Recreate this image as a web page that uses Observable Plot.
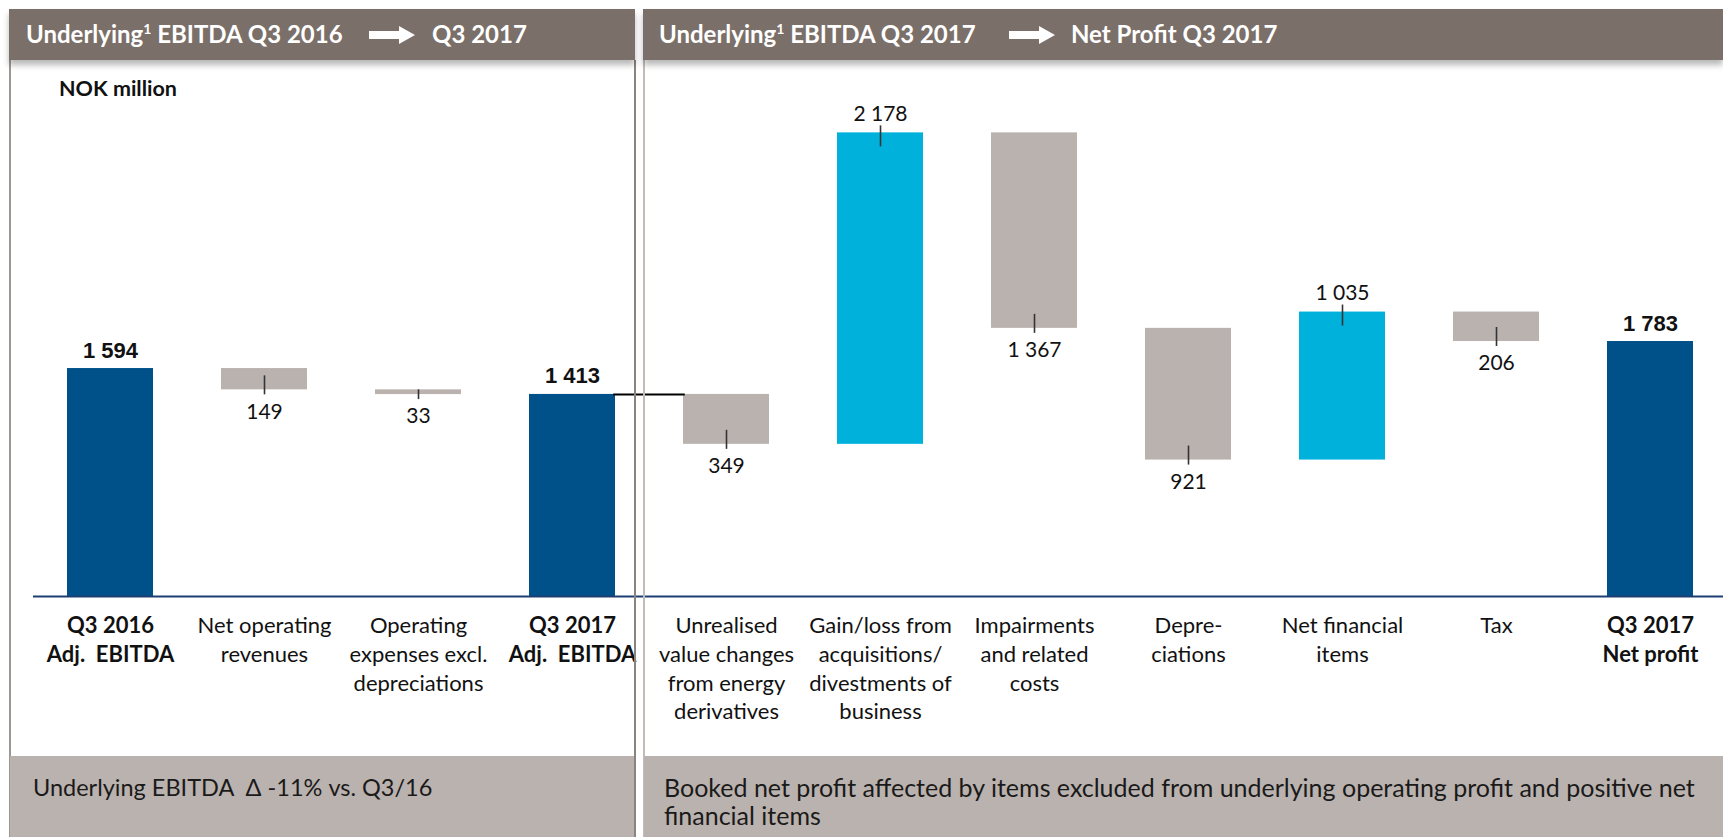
<!DOCTYPE html>
<html>
<head>
<meta charset="utf-8">
<script src="https://cdn.jsdelivr.net/npm/d3@7"></script>
<script src="https://cdn.jsdelivr.net/npm/@observablehq/plot@0.6"></script>
<style>
  html, body { margin: 0; padding: 0; background: #fff; }
  #wrap { position: relative; width: 1723px; height: 837px; overflow: hidden; font-family: Lato, "Open Sans", sans-serif; }
  #chart { position: absolute; left: 0; top: 0; }
  .hdr { position: absolute; top: 9px; height: 51px; background: #7b6f69; color: #fff; font-weight: 700; font-size: 24px; box-shadow: 0 5px 6px rgba(0,0,0,0.28); z-index: 3; }
  .hdr span { position: absolute; top: 10px; white-space: nowrap; }
  .hdr sup { font-size: 14px; vertical-align: 0; position: relative; top: -9px; }
  .hdr svg { position: absolute; top: 17px; }
  .vline { position: absolute; top: 60px; bottom: 0; width: 1.5px; z-index: 2; }
  .box { position: absolute; top: 756px; height: 81px; background: #bab2ae; color: #1a1a1a; z-index: 2; }
  .box div { position: absolute; white-space: nowrap; line-height: 28px; }
  #unit { position: absolute; left: 59px; top: 75px; font-weight: 700; font-size: 21.5px; color: #111; z-index: 2; }
</style>
</head>
<body>
<div id="wrap">
  <div id="chart"></div>
  <div class="hdr" style="left:9px;width:626px;">
    <span style="left:17px;">Underlying<sup>1</sup> EBITDA Q3 2016</span>
    <svg width="46" height="18" style="left:360px;"><polygon points="0,5 30,5 30,0 46,9 30,18 30,13 0,13" fill="#fff"/></svg>
    <span style="left:423px;">Q3 2017</span>
  </div>
  <div class="hdr" style="left:643px;width:1080px;">
    <span style="left:16px;">Underlying<sup>1</sup> EBITDA Q3 2017</span>
    <svg width="46" height="18" style="left:366px;"><polygon points="0,5 30,5 30,0 46,9 30,18 30,13 0,13" fill="#fff"/></svg>
    <span style="left:428px;">Net Profit Q3 2017</span>
  </div>
  <div id="unit">NOK million</div>
  <div class="vline" style="left:9px;background:#9d9691;"></div>
  <div class="vline" style="left:634px;background:#8a837e;"></div>
  <div class="vline" style="left:643px;background:#c2bcb8;"></div>
  <div class="box" style="left:10px;width:624px;">
    <div style="left:23px;top:17px;font-size:23.5px;">Underlying EBITDA&nbsp; Δ -11% vs. Q3/16</div>
  </div>
  <div class="box" style="left:644px;width:1079px;">
    <div style="left:20px;top:17px;font-size:25px;">Booked net profit affected by items excluded from underlying operating profit and positive net<br>financial items</div>
  </div>
</div>
<script>
// ---- data ----
const categories = [
  "Q3 2016\nAdj.  EBITDA",
  "Net operating\nrevenues",
  "Operating\nexpenses excl.\ndepreciations",
  "Q3 2017\nAdj.  EBITDA",
  "Unrealised\nvalue changes\nfrom energy\nderivatives",
  "Gain/loss from\nacquisitions/\ndivestments of\nbusiness",
  "Impairments\nand related\ncosts",
  "Depre-\nciations",
  "Net financial\nitems",
  "Tax",
  "Q3 2017\nNet profit"
];
const kinds = ["total","delta","delta","total","delta","delta","delta","delta","delta","delta","total"];
const values = [1594, -149, -33, 1413, -349, 2178, -1367, -921, 1035, -206, 1783];
const valueLabels = ["1 594","149","33","1 413","349","2 178","1 367","921","1 035","206","1 783"];

// ---- styling ----
const C_TOTAL = "#00518a", C_POS = "#00b1dc", C_NEG = "#bab2ae";
const Y_MAX = 3748, Y0 = 596, YTOP = 60;
const pxPerUnit = (Y0 - YTOP) / Y_MAX;
const px = p => p / pxPerUnit;
const X_RANGE = [35, 1725], P_IN = 0.44, P_OUT = 0.207;
const step = (X_RANGE[1] - X_RANGE[0]) / (categories.length - P_IN + 2 * P_OUT);
const bw = step * (1 - P_IN);

let cum = 0;
const rows = categories.map((cat, i) => {
  const kind = kinds[i], v = values[i];
  let y1, y2;
  if (kind === "total") { y1 = 0; y2 = v; cum = v; }
  else { y1 = cum; y2 = cum + v; cum = y2; }
  const color = kind === "total" ? C_TOTAL : (v > 0 ? C_POS : C_NEG);
  return {cat, kind, value: v, label: valueLabels[i], y1, y2, color};
});
const totals = rows.filter(d => d.kind === "total");
const deltas = rows.filter(d => d.kind === "delta");
const negs = deltas.filter(d => d.value < 0);
const poss = deltas.filter(d => d.value > 0);

const tickRows = deltas.map(d => {
  const s = Math.sign(d.value);
  const out = d.value < 0 ? d.y2 - px(5) : d.y2 + px(7);
  const inn = d.y2 - s * Math.min(px(14), Math.abs(d.value));
  return {cat: d.cat, a: out, b: inn};
});

// connector from the Q3 2017 EBITDA total across the gap to the next bar
const connector = [{cat: rows[3].cat, y: rows[3].value}];
const gap = step - bw;

const chart = Plot.plot({
  width: 1723,
  height: 837,
  marginLeft: 33,
  marginRight: 0,
  marginTop: YTOP,
  marginBottom: 0,
  style: {fontFamily: "Lato, sans-serif", background: "transparent"},
  x: {domain: categories, range: X_RANGE, paddingInner: P_IN, paddingOuter: P_OUT, axis: null},
  y: {domain: [0, Y_MAX], range: [Y0, YTOP], axis: null},
  color: {type: "identity"},
  marks: [
    Plot.barY(rows, {x: "cat", y1: "y1", y2: "y2", fill: "color"}),
    Plot.tickY(connector, {x: "cat", y: "y", stroke: "#000", strokeWidth: 2, dx: step / 2, insetLeft: (bw - gap) / 2 - 2, insetRight: (bw - gap) / 2 - 2}),
    Plot.ruleY([0], {stroke: "#1d3f73", strokeWidth: 2}),
    Plot.ruleX(tickRows, {x: "cat", y1: "a", y2: "b", stroke: "#333", strokeWidth: 1.6}),
    Plot.text(negs, {x: "cat", y: "y2", text: "label", dy: 22, fontSize: 21, fill: "#111", fontFamily: "Lato"}),
    Plot.text(poss, {x: "cat", y: "y2", text: "label", dy: -19, fontSize: 21, fill: "#111", fontFamily: "Lato"}),
    Plot.text(totals, {x: "cat", y: "y2", text: "label", dy: -18, fontSize: 22, fontWeight: 700, fill: "#111", fontFamily: "Liberation Sans, Arial, sans-serif"}),
    Plot.text(deltas, {x: "cat", y: 0, text: "cat", lineAnchor: "top", dy: 16, lineHeight: 1.31, fontSize: 22, fill: "#111", fontFamily: "Lato"}),
    Plot.text(totals, {x: "cat", y: 0, text: "cat", lineAnchor: "top", dy: 16, lineHeight: 1.31, fontSize: 22, fontWeight: 700, fill: "#111", fontFamily: "Lato"})
  ]
});
document.getElementById("chart").appendChild(chart);
</script>
</body>
</html>
